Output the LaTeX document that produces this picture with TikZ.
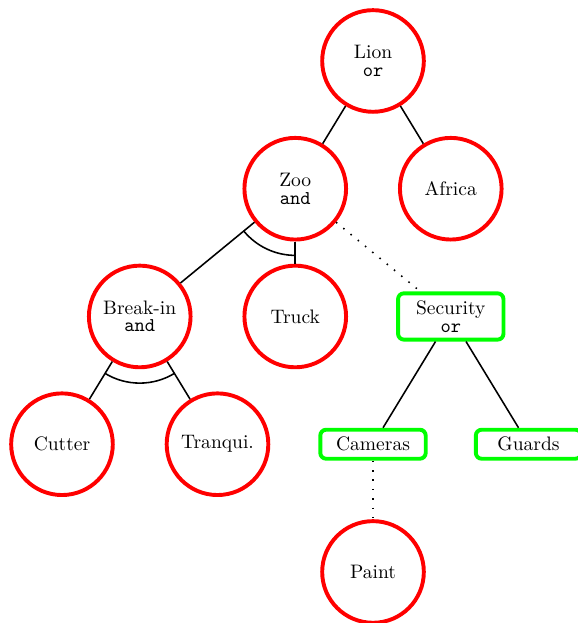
\documentclass[tikz,border=0pt]{standalone}
\usetikzlibrary{calc}
\begin{document}
\begin{tikzpicture}[
  goal/.style={circle, draw=red, line width=2pt, minimum size=1.83cm, inner sep=0pt, align=center},
  leafbox/.style={rectangle, rounded corners=3pt, draw=green, line width=2pt, minimum width=54pt, inner ysep=3.8pt, align=center},
  edge/.style={line width=0.8pt},
  dotedge/.style={line width=0.8pt, loosely dotted}
]
\useasboundingbox (-6.716,1.098) rectangle (3.673,-10.119);
\node[goal] (lion) at (0,0) {Lion\\[-3pt]\texttt{or}};
\node[goal] (zoo) at (-1.4,-2.3) {Zoo\\[-3pt]\texttt{and}};
\node[goal] (africa) at (1.4,-2.3) {Africa};
\node[goal] (breakin) at (-4.2,-4.6) {Break-in\\[-3pt]\texttt{and}};
\node[goal] (truck) at (-1.4,-4.6) {Truck};
\node[leafbox] (security) at (1.4,-4.6) {Security\\[-3pt]\texttt{or}};
\node[goal] (cutter) at (-5.6,-6.9) {Cutter};
\node[goal] (tranq) at (-2.8,-6.9) {Tranqui.};
\node[leafbox] (cameras) at (0,-6.9) {Cameras};
\node[leafbox] (guards) at (2.8,-6.9) {Guards};
\node[goal] (paint) at (0,-9.2) {Paint};

\draw[edge] (lion) -- (zoo);
\draw[edge] (lion) -- (africa);
\draw[edge] (zoo) -- (breakin);
\draw[edge] (zoo) -- (truck);
\draw[dotedge] (zoo) -- (security);
\draw[edge] (breakin) -- (cutter);
\draw[edge] (breakin) -- (tranq);
\draw[edge] (security) -- (cameras);
\draw[edge] (security) -- (guards);
\draw[dotedge] (cameras) -- (paint);

\draw[edge] ($(zoo.center)+(219.4:1.2)$) arc[start angle=219.4, end angle=270, radius=1.2cm];
\draw[edge] ($(breakin.center)+(238.67:1.2)$) arc[start angle=238.67, end angle=301.33, radius=1.2cm];
\end{tikzpicture}
\end{document}
